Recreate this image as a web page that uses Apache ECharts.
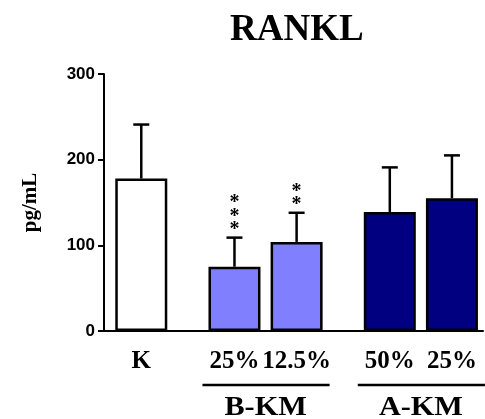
<!DOCTYPE html>
<html>
<head>
<meta charset="utf-8">
<script src="https://cdn.jsdelivr.net/npm/echarts@6/dist/echarts.min.js"></script>
<style>html,body{margin:0;padding:0;background:#fff;}#c{width:485px;height:419px;}</style>
</head>
<body>
<div id="c"></div>
<script>
// ---- data ----
var categories = ['K', '25%', '12.5%', '50%', '25%'];
var means = [178, 75, 104, 139, 155];
var sds = [63, 34, 34, 52, 50];
var stars = [0, 3, 2, 0, 0];
var groupOf = ['K', 'B-KM', 'B-KM', 'A-KM', 'A-KM'];
var groupNames = ['B-KM', 'A-KM'];
var yTicks = [0, 100, 200, 300];

// ---- layout (slot positions along the x axis) ----
var slot = [0, 3, 5, 8, 10];
var groupColor = { 'K': '#ffffff', 'B-KM': '#8080ff', 'A-KM': '#000080' };

var serif = 'Liberation Serif';
var sans = 'Liberation Sans';

var barData = categories.map(function (c, i) {
  return { value: [slot[i], means[i]], itemStyle: { color: groupColor[groupOf[i]] } };
});
var errData = categories.map(function (c, i) { return [slot[i], means[i], sds[i], stars[i]]; });
var groupData = groupNames.map(function (g) {
  var idx = [];
  groupOf.forEach(function (v, i) { if (v === g) idx.push(slot[i]); });
  return [Math.min.apply(null, idx), Math.max.apply(null, idx)];
});

var chart = echarts.init(document.getElementById('c'), null, { renderer: 'canvas' });
chart.setOption({
  animation: false,
  backgroundColor: '#fff',
  title: {
    text: 'RANKL', left: 230, top: 12, padding: 0,
    textStyle: { fontFamily: serif, fontWeight: 'bold', fontSize: 37, color: '#000' }
  },
  grid: { left: 104, right: 2, top: 74, bottom: 88 },
  xAxis: {
    type: 'value', min: -1.2, max: 11,
    axisLine: { show: true, onZero: false, lineStyle: { color: '#000', width: 2 } },
    axisTick: { show: false },
    splitLine: { show: false },
    axisLabel: {
      customValues: slot,
      formatter: function (v) { var i = slot.indexOf(v); return i >= 0 ? categories[i] : ''; },
      fontFamily: serif, fontWeight: 'bold', fontSize: 25, color: '#000', margin: 18
    }
  },
  yAxis: {
    type: 'value', min: 0, max: 300, interval: 100,
    name: 'pg/mL', nameLocation: 'middle', nameGap: 63,
    nameTextStyle: { fontFamily: serif, fontWeight: 'bold', fontSize: 21, color: '#000' },
    axisLine: { show: true, onZero: false, lineStyle: { color: '#000', width: 2 } },
    axisTick: { show: true, length: 6, lineStyle: { color: '#000', width: 2 } },
    splitLine: { show: false },
    axisLabel: {
      formatter: function (v) { return yTicks.indexOf(v) >= 0 ? String(v) : ''; },
      fontFamily: sans, fontWeight: 'bold', fontSize: 17, color: '#000', margin: 9
    }
  },
  series: [
    {
      type: 'bar', data: barData, barWidth: 52,
      itemStyle: { borderColor: '#000', borderWidth: 2.5 }
    },
    {
      type: 'custom', data: errData, z: 5,
      renderItem: function (params, api) {
        var x = api.value(0), m = api.value(1), s = api.value(2), n = api.value(3);
        var b = api.coord([x, m]), t = api.coord([x, m + s]);
        var ch = [
          { type: 'line', shape: { x1: b[0], y1: b[1], x2: t[0], y2: t[1] }, style: { stroke: '#000', lineWidth: 2.5 } },
          { type: 'line', shape: { x1: t[0] - 8, y1: t[1], x2: t[0] + 8, y2: t[1] }, style: { stroke: '#000', lineWidth: 2.5 } }
        ];
        if (n > 0) {
          var txt = [];
          for (var k = 0; k < n; k++) txt.push('*');
          ch.push({
            type: 'text', x: t[0], y: t[1] - 1,
            style: { text: txt.join('\n'), fill: '#000', font: 'bold 20px "Liberation Serif"', align: 'center', verticalAlign: 'bottom', lineHeight: 13.5 }
          });
        }
        return { type: 'group', children: ch };
      }
    },
    {
      type: 'custom', data: groupData, clip: false, z: 5,
      renderItem: function (params, api) {
        var p1 = api.coord([api.value(0), 0]), p2 = api.coord([api.value(1), 0]);
        var y = p1[1];
        return {
          type: 'group', children: [
            { type: 'line', shape: { x1: p1[0] - 32, y1: y + 54, x2: p2[0] + 33, y2: y + 54 }, style: { stroke: '#000', lineWidth: 2.5 } },
            { type: 'text', x: (p1[0] + p2[0]) / 2, y: y + 77, scaleX: 1.12,
              style: { text: groupNames[params.dataIndex], fill: '#000', font: 'bold 27px "Liberation Serif"', align: 'center', verticalAlign: 'middle' } }
          ]
        };
      }
    }
  ]
});
</script>
</body>
</html>
